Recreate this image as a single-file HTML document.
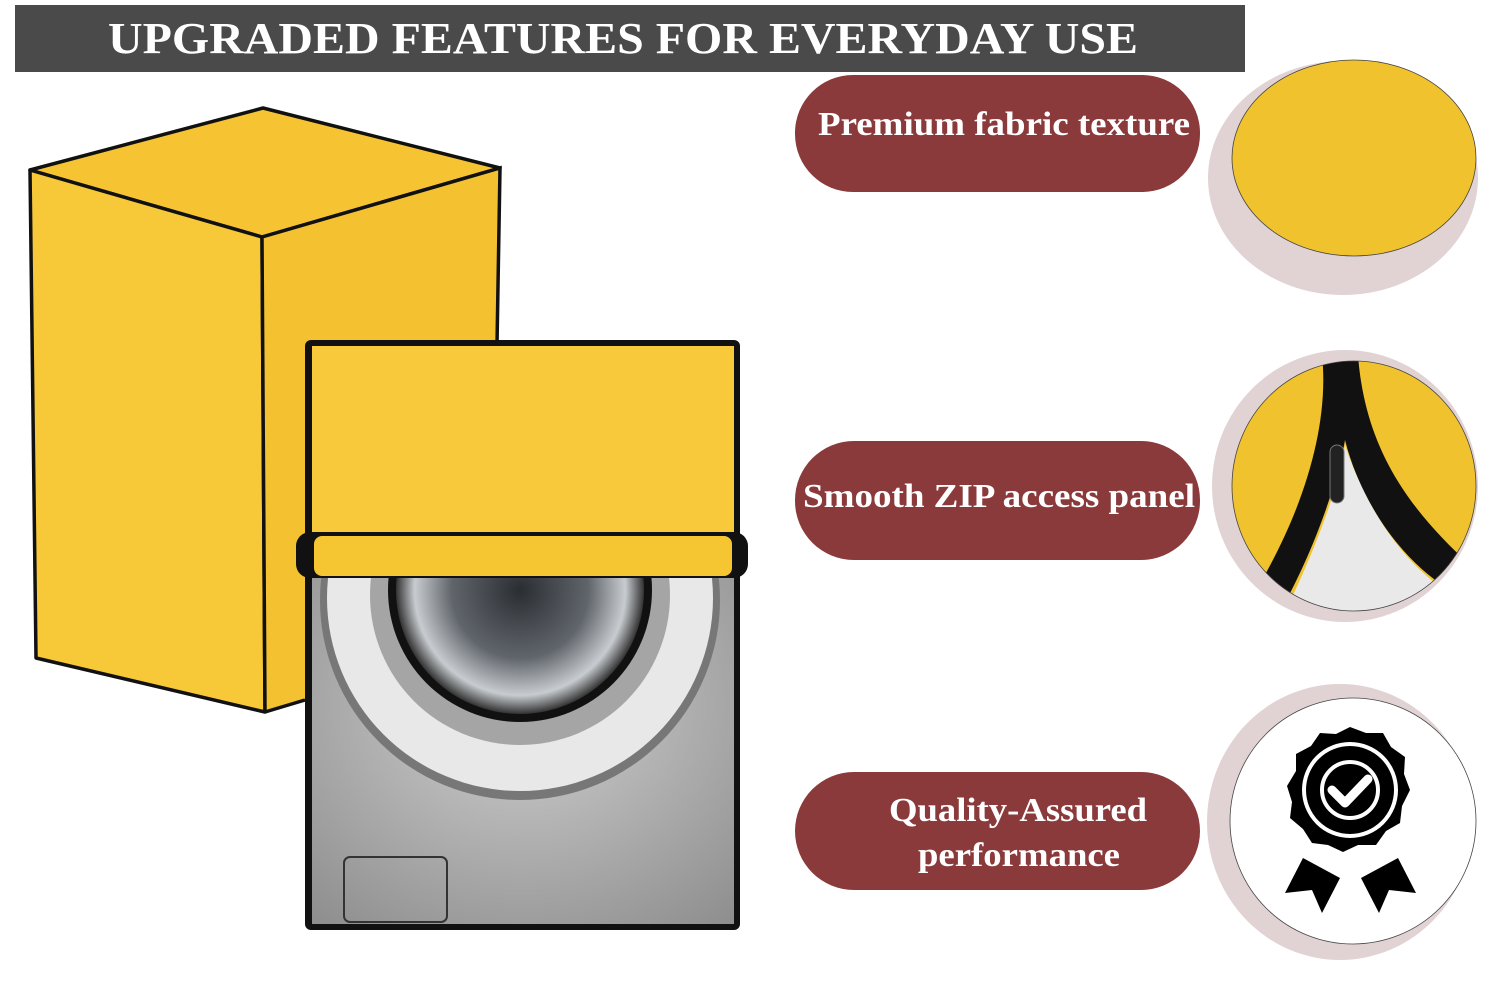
<!DOCTYPE html>
<html><head><meta charset="utf-8"><style>
html,body{margin:0;padding:0;background:#fff;}
svg{display:block}
text{font-family:"Liberation Serif",serif;font-weight:bold;}
</style></head><body>
<svg width="1500" height="1000" viewBox="0 0 1500 1000" xmlns="http://www.w3.org/2000/svg">
<defs>
<radialGradient id="steel" cx="0.5" cy="0.4" r="0.8"><stop offset="0" stop-color="#cfcfcf"/><stop offset="1" stop-color="#8c8c8c"/></radialGradient>
<radialGradient id="drum" cx="0.5" cy="0.5" r="0.5"><stop offset="0" stop-color="#2a2e33"/><stop offset="0.55" stop-color="#60656b"/><stop offset="0.85" stop-color="#c8ccd0"/><stop offset="1" stop-color="#333"/></radialGradient>
<clipPath id="below"><rect x="310" y="560" width="425" height="365"/></clipPath>
<clipPath id="c2"><ellipse cx="1354" cy="486" rx="122" ry="125"/></clipPath>
</defs>
<rect x="15" y="5" width="1230" height="67" fill="#4a4a4a"/>
<text x="108" y="53" font-size="44" fill="#fff" textLength="1030" lengthAdjust="spacingAndGlyphs">UPGRADED FEATURES FOR EVERYDAY USE</text>

<polygon points="30,170 263,108 500,168 262,237" fill="#f6c433" stroke="#111" stroke-width="3.5" stroke-linejoin="round"/>
<polygon points="30,170 262,237 265,712 36,658" fill="#f7c838" stroke="#111" stroke-width="3.5" stroke-linejoin="round"/>
<polygon points="262,237 500,168 497,345 305,345 305,700 265,712" fill="#f4c130"/>
<polyline points="262,237 500,168 497,345" fill="none" stroke="#111" stroke-width="3.5"/>
<line x1="262" y1="237" x2="265" y2="712" stroke="#111" stroke-width="3.5"/>
<line x1="265" y1="712" x2="305" y2="700" stroke="#111" stroke-width="3.5"/>

<rect x="305" y="340" width="435" height="590" rx="6" fill="#111"/>
<rect x="312" y="560" width="422" height="364" fill="url(#steel)"/>
<g clip-path="url(#below)">
<circle cx="520" cy="600" r="200" fill="#777"/>
<circle cx="520" cy="598" r="193" fill="#e8e8e8"/>
<circle cx="520" cy="595" r="150" fill="#a5a5a5"/>
<circle cx="520" cy="590" r="132" fill="#111"/>
<circle cx="520" cy="590" r="124" fill="url(#drum)"/>
</g>
<rect x="344" y="857" width="103" height="65" rx="6" fill="none" stroke="#333" stroke-width="2"/>
<rect x="312" y="346" width="422" height="200" fill="#f8c93a"/>
<rect x="296" y="532" width="452" height="46" rx="14" fill="#111"/>
<rect x="314" y="536" width="418" height="40" rx="8" fill="#f6c532"/>

<rect x="795" y="75" width="405" height="117" rx="58" fill="#8b3a3b"/>
<text x="818" y="135" font-size="34" fill="#fff" textLength="372" lengthAdjust="spacingAndGlyphs">Premium fabric texture</text>
<rect x="795" y="441" width="405" height="119" rx="59" fill="#8b3a3b"/>
<text x="803" y="507" font-size="34" fill="#fff" textLength="392" lengthAdjust="spacingAndGlyphs">Smooth ZIP access panel</text>
<rect x="795" y="772" width="405" height="118" rx="59" fill="#8b3a3b"/>
<text x="889" y="821" font-size="34" fill="#fff" textLength="258" lengthAdjust="spacingAndGlyphs">Quality-Assured</text>
<text x="918" y="866" font-size="34" fill="#fff" textLength="202" lengthAdjust="spacingAndGlyphs">performance</text>

<ellipse cx="1343" cy="178" rx="135" ry="117" fill="#e1d3d4"/>
<ellipse cx="1354" cy="158" rx="122" ry="98" fill="#f0c22e" stroke="#444" stroke-width="0.8"/>
<ellipse cx="1345" cy="486" rx="133" ry="136" fill="#e1d3d4"/>
<ellipse cx="1354" cy="486" rx="122" ry="125" fill="#f0c22e"/>
<g clip-path="url(#c2)">
<path d="M1322,355 C1330,430 1300,520 1250,600 L1280,612 C1320,540 1340,470 1345,440 C1360,500 1400,560 1450,590 L1470,565 C1410,510 1365,450 1358,355 Z" fill="#111"/>
<path d="M1285,612 C1320,540 1340,480 1345,445 C1365,505 1400,560 1445,590 C1410,615 1330,625 1285,612 Z" fill="#e9e9e9"/>
</g>
<ellipse cx="1354" cy="486" rx="122" ry="125" fill="none" stroke="#444" stroke-width="0.8"/>
<rect x="1330" y="445" width="14" height="58" rx="7" fill="#222" stroke="#777"/>
<ellipse cx="1340" cy="822" rx="133" ry="138" fill="#e1d3d4"/>
<circle cx="1353" cy="821" r="123" fill="#fff" stroke="#444" stroke-width="0.8"/>
<polygon points="1350,727 1366,733 1383,733 1391,747 1405,757 1404,774 1410,790 1402,806 1400,823 1386,831 1376,845 1358,845 1343,852 1328,845 1312,843 1303,829 1290,818 1292,802 1287,786 1296,771 1296,754 1311,746 1320,733 1336,734" fill="#000"/>
<circle cx="1350" cy="790" r="46" fill="none" stroke="#fff" stroke-width="4"/>
<circle cx="1350" cy="790" r="28" fill="none" stroke="#fff" stroke-width="4"/>
<polyline points="1332,790 1345,803 1368,779" fill="none" stroke="#fff" stroke-width="9" stroke-linecap="round" stroke-linejoin="round"/>
<polygon points="1303,858 1340,878 1322,913 1312,890 1285,893" fill="#000"/>
<polygon points="1398,858 1361,878 1379,913 1389,890 1416,893" fill="#000"/>
</svg>
</body></html>
